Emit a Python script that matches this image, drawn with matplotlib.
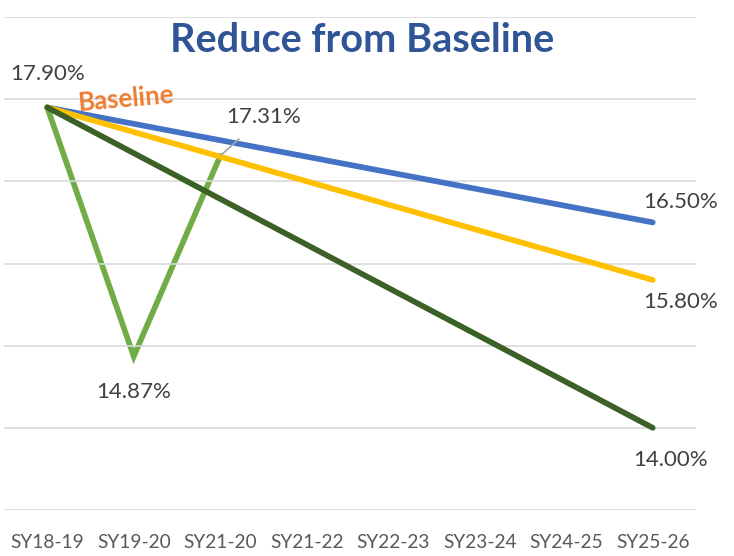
import numpy as np
import matplotlib
matplotlib.use("Agg")
import matplotlib.pyplot as plt

categories = ["SY18-19", "SY19-20", "SY21-20", "SY21-22",
              "SY22-23", "SY23-24", "SY24-25", "SY25-26"]

# Rates in percent; None where no value is recorded for that year
target_a = [17.90, None, None, None, None, None, None, 16.50]
target_b = [17.90, None, None, None, None, None, None, 15.80]
target_c = [17.90, None, None, None, None, None, None, 14.00]
actual = [17.90, 14.87, 17.31, None, None, None, None, None]

y_min, y_max, y_step = 13, 19, 1

plt.rcParams['font.family'] = ['Lato', 'DejaVu Sans']

W, H = 734, 556
fig = plt.figure(figsize=(W / 100, H / 100), dpi=100)
ax = fig.add_axes([4 / W, (H - 510) / H, (696 - 4) / W, (510 - 17) / H])

x_all = np.arange(len(categories))


def series(vals):
    v = np.array([np.nan if a is None else a for a in vals], dtype=float)
    m = ~np.isnan(v)
    return x_all[m], v[m]


styles = [
    (actual, "#70AD47", 1),
    (target_a, "#4472C4", 2),
    (target_b, "#FFC000", 3),
    (target_c, "#3B6127", 4),
]
for vals, color, z in styles:
    xs, ys = series(vals)
    ax.plot(xs, ys, color=color, lw=4.1, solid_capstyle="round",
            solid_joinstyle="miter", zorder=z)

ax.set_xlim(-0.5, len(categories) - 0.5)
ax.set_ylim(y_min, y_max)
ax.set_yticks(np.arange(y_min, y_max + 0.5, y_step))
ax.set_yticklabels([])
ax.tick_params(axis="y", length=0)
ax.grid(axis="y", color="#D9D9D9", lw=1.2, zorder=0)
ax.set_xticks(x_all)
ax.set_xticklabels(categories, fontsize=13.8, color="#595959")
ax.tick_params(axis="x", length=0, pad=17)
for s in ax.spines.values():
    s.set_visible(False)

lab_kw = dict(fontsize=16, color="#404040", ha="center", va="center")
# point labels
xs, ys = series(actual)
ax.annotate(f"{ys[0]:.2f}%", (xs[0], ys[0]), xytext=(0, 24),
            textcoords="offset points", **lab_kw)
ax.annotate(f"{ys[1]:.2f}%", (xs[1], ys[1]), xytext=(0, -26),
            textcoords="offset points", **lab_kw)
ax.annotate(f"{ys[2]:.2f}%", (xs[2], ys[2]), xytext=(31, 28),
            textcoords="offset points",
            arrowprops=dict(arrowstyle="-", color="#A6A6A6", lw=1.3,
                            shrinkA=10, shrinkB=1),
            **lab_kw)
for vals, dy, dx in [(target_a, 15, 20), (target_b, -16, 20), (target_c, -23, 13)]:
    xs, ys = series(vals)
    ax.annotate(f"{ys[-1]:.2f}%", (xs[-1], ys[-1]), xytext=(dx, dy),
                textcoords="offset points", **lab_kw)

ax.text(0.91, 18.0, "Baseline", color="#ED7D31", fontsize=18.5,
        fontweight="bold", rotation=5, ha="center", va="center")

fig.text(362 / W, 1 - 41 / H, "Reduce from Baseline", color="#2F5597",
         fontsize=28.5, fontweight="bold", ha="center", va="center")

fig.savefig("out.png", dpi=100, facecolor="white")
